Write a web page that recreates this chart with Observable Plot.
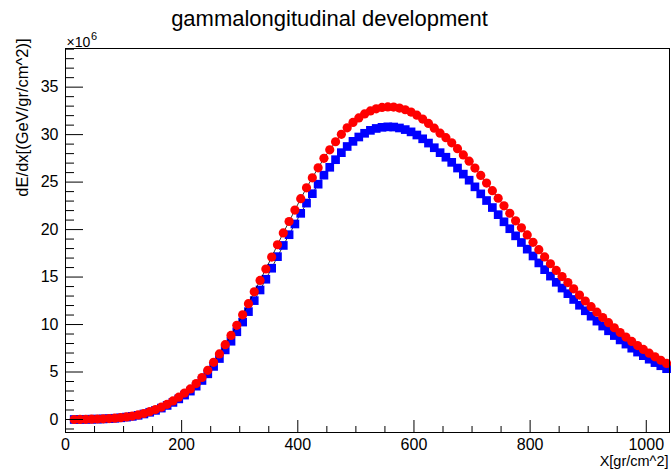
<!DOCTYPE html>
<html>
<head>
<meta charset="utf-8">
<script src="https://cdn.jsdelivr.net/npm/d3@7"></script>
<script src="https://cdn.jsdelivr.net/npm/@observablehq/plot@0.6"></script>
<style>
  body { margin: 0; background: #ffffff; }
  #chart svg { display: block; }
</style>
</head>
<body>
<div id="chart"></div>
<script>
// Slant depth bin centres (g/cm^2)
const depth = [
  15, 25, 35, 45, 55, 65, 75, 85, 95, 105,
  115, 125, 135, 145, 155, 165, 175, 185, 195, 205,
  215, 225, 235, 245, 255, 265, 275, 285, 295, 305,
  315, 325, 335, 345, 355, 365, 375, 385, 395, 405,
  415, 425, 435, 445, 455, 465, 475, 485, 495, 505,
  515, 525, 535, 545, 555, 565, 575, 585, 595, 605,
  615, 625, 635, 645, 655, 665, 675, 685, 695, 705,
  715, 725, 735, 745, 755, 765, 775, 785, 795, 805,
  815, 825, 835, 845, 855, 865, 875, 885, 895, 905,
  915, 925, 935, 945, 955, 965, 975, 985, 995, 1005,
  1015, 1025, 1035
];

// dE/dx in units of 10^6 GeV/(g/cm^2) — red circles
const energyRed = [
  0.00, 0.01, 0.02, 0.03, 0.05, 0.07, 0.10, 0.14, 0.19, 0.27,
  0.36, 0.48, 0.63, 0.82, 1.04, 1.30, 1.60, 1.95, 2.35, 2.78,
  3.22, 3.78, 4.42, 5.18, 6.02, 6.90, 7.88, 8.85, 9.92, 11.02,
  12.20, 13.45, 14.65, 15.85, 17.10, 18.40, 19.65, 20.85, 22.05, 23.25,
  24.40, 25.45, 26.50, 27.50, 28.40, 29.25, 30.03, 30.72, 31.28, 31.76,
  32.18, 32.50, 32.72, 32.86, 32.92, 32.90, 32.80, 32.62, 32.38, 32.05,
  31.64, 31.18, 30.68, 30.15, 29.68, 29.14, 28.52, 27.86, 27.20, 26.48,
  25.70, 24.90, 24.10, 23.30, 22.50, 21.72, 20.92, 20.18, 19.44, 18.66,
  17.88, 17.12, 16.40, 15.70, 15.05, 14.42, 13.76, 13.10, 12.48, 11.88,
  11.30, 10.74, 10.20, 9.66, 9.16, 8.68, 8.22, 7.78, 7.38, 6.98,
  6.60, 6.24, 5.90
];

// dE/dx in units of 10^6 GeV/(g/cm^2) — blue squares
const energyBlue = [
  0.00, 0.01, 0.02, 0.03, 0.04, 0.06, 0.09, 0.13, 0.18, 0.25,
  0.33, 0.44, 0.58, 0.76, 0.96, 1.20, 1.48, 1.80, 2.17, 2.57,
  2.99, 3.51, 4.11, 4.81, 5.59, 6.42, 7.33, 8.24, 9.24, 10.26,
  11.36, 12.52, 13.64, 14.77, 15.93, 17.15, 18.33, 19.46, 20.59, 21.71,
  22.79, 23.78, 24.78, 25.73, 26.56, 27.36, 28.10, 28.75, 29.29, 29.75,
  30.14, 30.45, 30.65, 30.77, 30.82, 30.80, 30.70, 30.53, 30.29, 29.96,
  29.56, 29.11, 28.62, 28.10, 27.62, 27.08, 26.48, 25.84, 25.20, 24.50,
  23.76, 23.06, 22.32, 21.57, 20.82, 20.09, 19.34, 18.64, 17.94, 17.22,
  16.49, 15.78, 15.10, 14.45, 13.84, 13.25, 12.64, 12.03, 11.45, 10.88,
  10.36, 9.84, 9.34, 8.84, 8.38, 7.94, 7.51, 7.10, 6.72, 6.35,
  5.99, 5.66, 5.35
];

const xMajorTicks = [0, 200, 400, 600, 800, 1000];
const xMinorTicks = [50, 100, 150, 250, 300, 350, 450, 500, 550, 650, 700, 750, 850, 900, 950];
const yMajorTicks = [0, 5, 10, 15, 20, 25, 30, 35];
const yMinorTicks = [-1, 1, 2, 3, 4, 6, 7, 8, 9, 11, 12, 13, 14, 16, 17, 18, 19,
  21, 22, 23, 24, 26, 27, 28, 29, 31, 32, 33, 34, 36, 37, 38, 39];

const titleText = "gammalongitudinal development";
const xTitle = "X[gr/cm^2]";
const yTitle = "dE/dx[(GeV/gr/cm^2)]";
const expBase = "\u00d710";
const expPower = "6";

const rows = depth.map((x, i) => ({x, red: energyRed[i], blue: energyBlue[i]}));

const font = "'Liberation Sans', Arial, Helvetica, sans-serif";
const plain = (d) => String(d);

const chart = Plot.plot({
  width: 671,
  height: 469,
  marginLeft: 65,
  marginRight: 2,
  marginTop: 48,
  marginBottom: 37,
  style: {fontFamily: font, fontSize: "16px", background: "#ffffff", color: "#000000", overflow: "visible"},
  x: {domain: [0, 1040]},
  y: {domain: [-1.37, 39.07]},
  marks: [
    Plot.line(rows, {x: "x", y: "blue", stroke: "#000000", strokeWidth: 0.8}),
    Plot.dot(rows, {x: "x", y: "blue", symbol: "square", r: 4.9, fill: "#0000ff"}),
    Plot.line(rows, {x: "x", y: "red", stroke: "#000000", strokeWidth: 0.8}),
    Plot.dot(rows, {x: "x", y: "red", r: 4.6, fill: "#ff0000"}),
    Plot.frame({stroke: "#000000", strokeWidth: 1}),
    // x axis ticks (inward) and labels
    Plot.axisX(xMajorTicks, {anchor: "bottom", tickSize: -12, fill: "none", label: null}),
    Plot.axisX(xMinorTicks, {anchor: "bottom", tickSize: -6, fill: "none", label: null}),
    Plot.axisX(xMajorTicks, {anchor: "bottom", tickSize: 0, tickPadding: 6, tickFormat: plain, label: null, fontSize: 16}),
    // y axis ticks (inward) and labels
    Plot.axisY(yMajorTicks, {anchor: "left", tickSize: -18, fill: "none", label: null}),
    Plot.axisY(yMinorTicks, {anchor: "left", tickSize: -9, fill: "none", label: null}),
    Plot.axisY(yMajorTicks, {anchor: "left", tickSize: 0, tickPadding: 7, tickFormat: plain, label: null, fontSize: 16}),
    // titles
    Plot.text([titleText], {frameAnchor: "top", dx: -38, dy: -23, lineAnchor: "bottom", fontSize: 22}),
    Plot.text([xTitle], {frameAnchor: "bottom-right", dx: -1, dy: 33, textAnchor: "end", lineAnchor: "bottom", fontSize: 14.5}),
    Plot.text([yTitle], {frameAnchor: "top-left", dx: -43, dy: -10, rotate: -90, textAnchor: "end", lineAnchor: "middle", fontSize: 16.5}),
    Plot.text([expBase], {frameAnchor: "top-left", dx: 1, dy: -2, textAnchor: "start", lineAnchor: "bottom", fontSize: 14}),
    Plot.text([expPower], {frameAnchor: "top-left", dx: 25.5, dy: -9, textAnchor: "start", lineAnchor: "bottom", fontSize: 11})
  ]
});

document.getElementById("chart").appendChild(chart);
</script>
</body>
</html>
